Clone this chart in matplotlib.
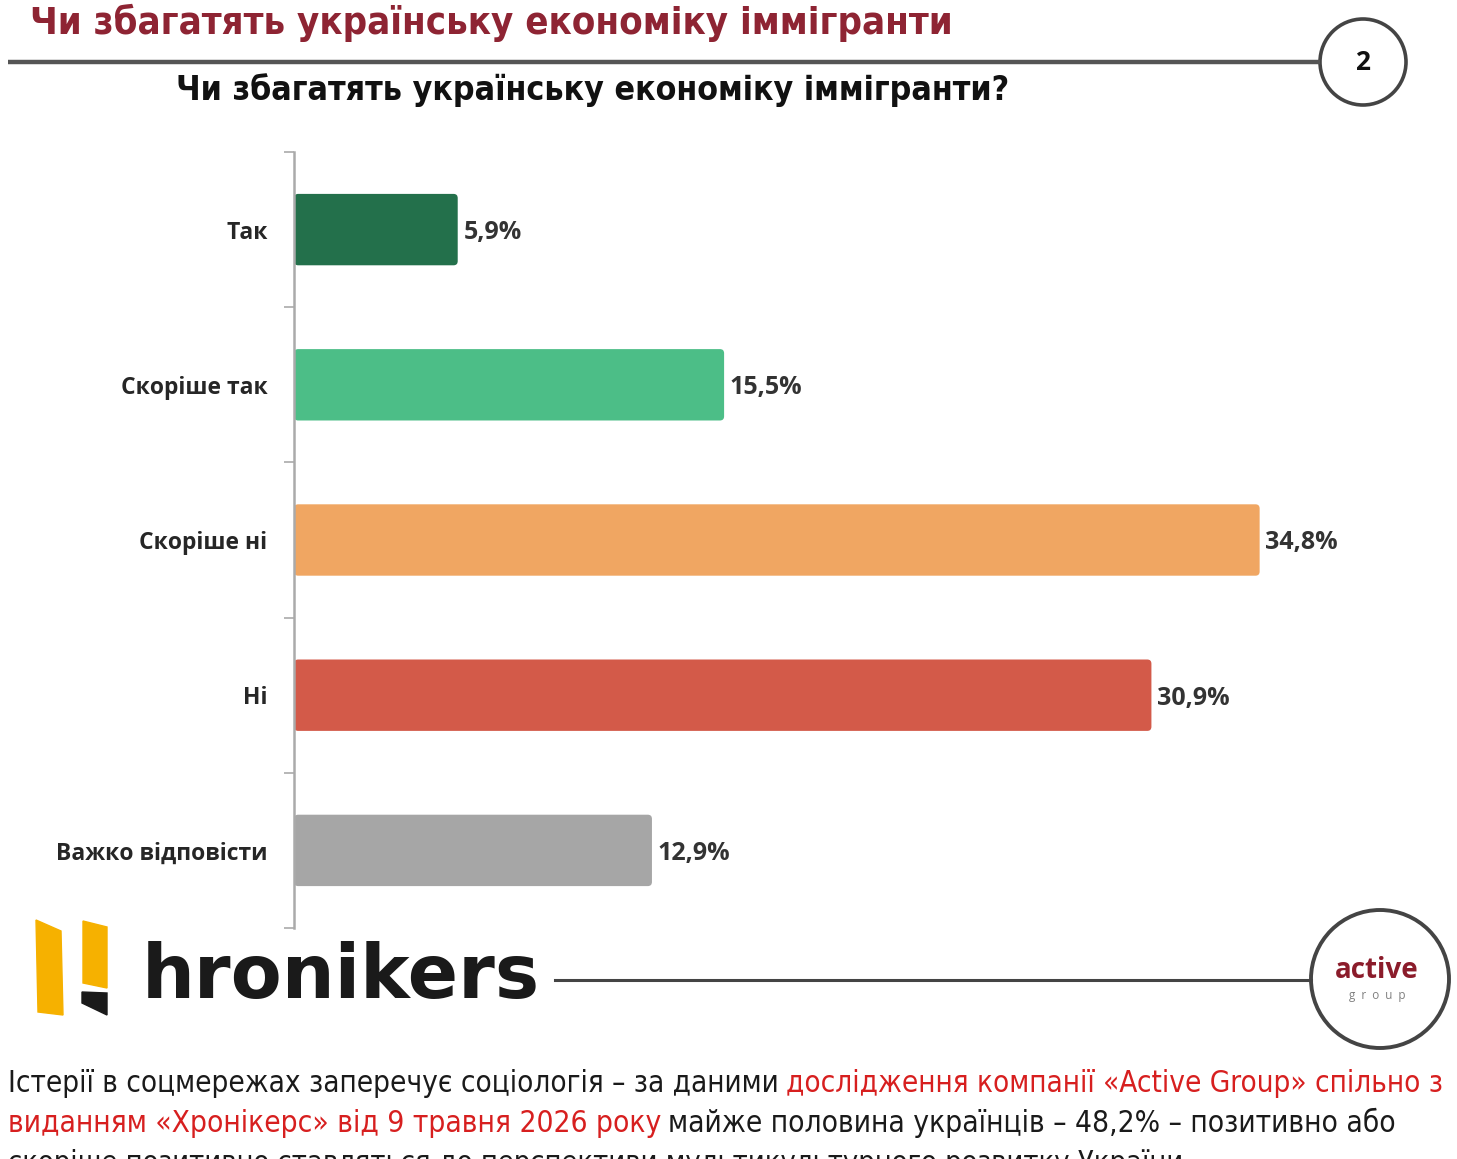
import matplotlib
matplotlib.use('Agg')
import matplotlib.pyplot as plt
from matplotlib import font_manager
from matplotlib.patches import Circle, Polygon, FancyBboxPatch

BOLD = 'Open Sans'


def find_condensed():
    # any narrow / condensed sans that happens to be installed
    fonts = font_manager.fontManager.ttflist
    for name in ['Liberation Sans Narrow', 'DejaVu Sans', 'Noto Sans', 'Roboto', 'Open Sans']:
        for f in fonts:
            if f.name == name and ('Narrow' in f.name or 'condensed' in str(f.stretch)):
                return name, f.stretch
    return 'DejaVu Sans', 'normal'


NARROW, STRETCH = find_condensed()

# data
categories = ['Так', 'Скоріше так', 'Скоріше ні', 'Ні', 'Важко відповісти']
values = [5.9, 15.5, 34.8, 30.9, 12.9]
bar_colors = ['#23704b', '#4cbe87', '#f0a662', '#d35a49', '#a6a6a6']

title = 'Чи збагатять українську економіку іммігранти'
subtitle = 'Чи збагатять українську економіку іммігранти?'
page_no = '2'

paragraph = [
    [('Істерії в соцмережах заперечує соціологія – за даними', 'black'),
     ('дослідження компанії «Active Group» спільно з', 'red')],
    [('виданням «Хронікерс» від 9 травня 2026 року', 'red'),
     ('майже половина українців – 48,2% – позитивно або', 'black')],
    [('скоріше позитивно ставляться до перспективи мультикультурного розвитку України', 'black')],
]
line_widths = [1437, 1387, 1172]
text_colors = {'black': '#1a1a1a', 'red': '#d71f1f'}

W, H = 1457, 1159
fig = plt.figure(figsize=(W / 100, H / 100), dpi=100)
fig.patch.set_facecolor('white')
renderer = fig.canvas.get_renderer()


def fit(t, target):
    w = t.get_window_extent(renderer).width
    t.set_fontsize(t.get_fontsize() * target / w)


# overlay in pixel coordinates for the page decorations
ov = fig.add_axes([0, 0, 1, 1])
ov.set_xlim(0, W)
ov.set_ylim(H, 0)
ov.axis('off')

t = ov.text(30, 23, title, family=NARROW, fontstretch=STRETCH, weight='bold',
            fontsize=29, color='#8e2433', va='center', ha='left')
fit(t, 920)
ov.plot([8, 1320], [62, 62], color='#555555', lw=3.2, solid_capstyle='butt')
ov.add_patch(Circle((1363, 62), 43, facecolor='white', edgecolor='#444444', lw=2.6))
ov.text(1363, 62, page_no, family=BOLD, weight='bold', fontsize=19,
        color='#111111', ha='center', va='center')
t = ov.text(593, 90, subtitle, family=NARROW, fontstretch=STRETCH, weight='bold',
            fontsize=26, color='#111111', ha='center', va='center')
fit(t, 837)

# hronikers logo
ov.add_patch(Polygon([(36, 920), (61, 931), (63, 1015), (38, 1012)], color='#f6b100'))
ov.add_patch(Polygon([(83, 921), (107, 927), (107, 988), (83, 983)], color='#f6b100'))
ov.add_patch(Polygon([(82, 992), (107, 993), (107, 1015), (82, 1003)], color='#1a1a1a'))
t = ov.text(142, 998, 'hronikers', family='DejaVu Sans', weight='bold', fontsize=54,
            color='#1a1a1a', ha='left', va='baseline')
fit(t, 398)
ov.plot([555, 1311], [980, 980], color='#444444', lw=2.2)
ov.add_patch(Circle((1380, 979), 69, facecolor='white', edgecolor='#444444', lw=2.8))
ov.text(1377, 971, 'active', family=BOLD, weight='bold', fontsize=20,
        color='#8b1c2b', ha='center', va='center')
ov.text(1377, 995, 'g  r  o  u  p', family=BOLD, fontsize=8.5,
        color='#808080', ha='center', va='center')

# paragraph with mixed colours, each line sized to its width in the reference
gap = 5
for i, line in enumerate(paragraph):
    y = 1083 + 40 * i
    parts = []
    prev = None
    for txt, c in line:
        if prev is None:
            prev = ov.text(8, y, txt, family=NARROW, fontstretch=STRETCH, fontsize=21,
                           color=text_colors[c], ha='left', va='center')
        else:
            prev = ov.annotate(txt, xy=(1, 0), xycoords=prev, xytext=(gap, 0),
                               textcoords='offset points', family=NARROW,
                               fontstretch=STRETCH, fontsize=21,
                               color=text_colors[c], ha='left', va='bottom')
        parts.append(prev)
    total = sum(p.get_window_extent(renderer).width for p in parts)
    gaps = (len(parts) - 1) * gap * 100 / 72
    s = (line_widths[i] - gaps) / total
    for p in parts:
        p.set_fontsize(21 * s)

# bar chart
ax = fig.add_axes([294 / W, 1 - 928 / H, 1146 / W, 776 / H])
ax.patch.set_alpha(0)
ypos = list(range(len(categories)))
bars = ax.barh(ypos, values, height=0.46, color=bar_colors)
ax.set_ylim(len(categories) - 0.5, -0.5)
ax.set_xlim(0, 41.3)

# swap the square bars for slightly rounded ones
for b in bars:
    x0, y0 = b.get_x(), b.get_y()
    rb = FancyBboxPatch((x0, y0), b.get_width(), b.get_height(),
                        boxstyle='round,pad=0,rounding_size=0.15',
                        mutation_aspect=0.18, facecolor=b.get_facecolor(),
                        edgecolor='none')
    ax.add_patch(rb)
    b.set_visible(False)

ax.set_yticks(ypos)
ax.set_yticklabels(categories, family=BOLD, weight='bold', fontsize=16.5, color='#262626')
ax.set_yticks([p - 0.5 for p in range(len(categories) + 1)], minor=True)
ax.tick_params(axis='y', which='major', length=0, pad=19)
ax.tick_params(axis='y', which='minor', length=7, width=1.2, color='#aaaaaa')
ax.set_xticks([])
for s in ['top', 'right', 'bottom']:
    ax.spines[s].set_visible(False)
ax.spines['left'].set_color('#aaaaaa')
ax.spines['left'].set_linewidth(1.8)
ax.spines['left'].set_zorder(3)
for p, v in zip(ypos, values):
    ax.annotate(f'{v:.1f}%'.replace('.', ','), xy=(v, p), xytext=(4, 0),
                textcoords='offset points', va='center_baseline', ha='left',
                family=BOLD, weight='bold', fontsize=18, color='#333333')

fig.savefig('out.png', dpi=100, facecolor='white')
